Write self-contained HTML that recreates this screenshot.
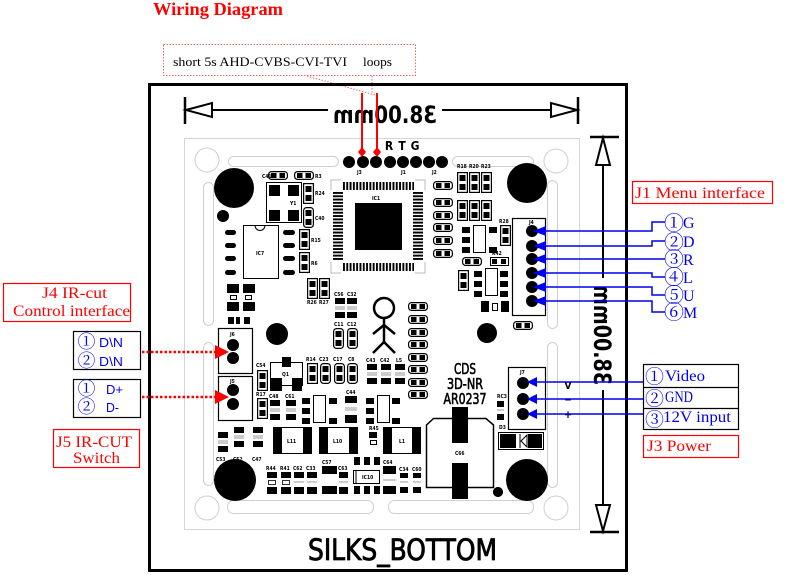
<!DOCTYPE html>
<html><head><meta charset="utf-8">
<style>
html,body{margin:0;padding:0;background:#fff;width:802px;height:587px;overflow:hidden}
svg{display:block}
.t{font-family:'DejaVu Sans Condensed','DejaVu Sans',sans-serif;font-weight:bold;font-size:5px;fill:#000}
.sf{font-family:'Liberation Serif',serif}
.ss{font-family:'Liberation Sans',sans-serif}
.cj{font-family:'Noto Serif CJK SC','Noto Sans CJK SC','DejaVu Sans',serif}
.cd{font-family:'DejaVu Sans Condensed','DejaVu Sans',sans-serif}
</style></head>
<body>
<svg xmlns="http://www.w3.org/2000/svg" xmlns:xlink="http://www.w3.org/1999/xlink" width="802" height="587" viewBox="0 0 802 587">
<defs>
<pattern id="pinH" x="343" y="0" width="3.3" height="20" patternUnits="userSpaceOnUse"><rect width="1.9" height="20" fill="#000"/></pattern>
<pattern id="pinV" x="0" y="192" width="20" height="3.3" patternUnits="userSpaceOnUse"><rect width="20" height="1.9" fill="#000"/></pattern>
<g id="hp"><rect x="0.6" y="0.6" width="18.8" height="7.8" rx="3" fill="#fff" stroke="#000" stroke-width="1.2"/><rect x="3" y="2" width="5.5" height="5"/><rect x="11.5" y="2" width="5.5" height="5"/></g>
<g id="vp"><rect x="0.6" y="0.6" width="9.8" height="19.8" fill="#fff" stroke="#000" stroke-width="1.2"/><rect x="2.5" y="3" width="6" height="6"/><rect x="2.5" y="12" width="6" height="6"/></g>
<g id="vpr"><rect x="0.6" y="0.6" width="9.8" height="19.8" rx="3" fill="#fff" stroke="#000" stroke-width="1.2"/><rect x="2.5" y="3" width="6" height="6"/><rect x="2.5" y="12" width="6" height="6"/></g>
<g id="cb"><rect x="0" y="0" width="10" height="6"/><line x1="0" y1="9" x2="10" y2="9" stroke="#999" stroke-width="1"/><line x1="0" y1="11" x2="10" y2="11" stroke="#999" stroke-width="1"/><rect x="0" y="14" width="10" height="6"/></g>
</defs>

<rect width="802" height="587" fill="#fff"/>

<!-- Title -->
<text x="153" y="15" class="sf" font-weight="bold" font-size="18" fill="#f00" textLength="130" lengthAdjust="spacingAndGlyphs">Wiring Diagram</text>

<!-- Callout -->
<rect x="163.5" y="44.5" width="252" height="31" fill="none" stroke="#ee6a6a" stroke-width="1" stroke-dasharray="1.5 1.5"/>
<text x="173" y="66" class="sf" font-size="13" textLength="174" lengthAdjust="spacingAndGlyphs">short 5s AHD-CVBS-CVI-TVI</text>
<text x="363" y="66" class="sf" font-size="13" textLength="29" lengthAdjust="spacingAndGlyphs">loops</text>
<line x1="307" y1="76" x2="375" y2="95" stroke="#ee6a6a" stroke-width="1" stroke-dasharray="1.5 1.5"/>
<line x1="372" y1="76" x2="372" y2="93" stroke="#ee6a6a" stroke-width="1" stroke-dasharray="1.5 1.5"/>

<!-- Outer frame -->
<rect x="149.5" y="84.5" width="477" height="486" fill="none" stroke="#000" stroke-width="3"/>

<!-- PCB -->
<rect x="184.5" y="138.5" width="395" height="391" fill="#fff" stroke="#d6d6d6"/>
<g fill="none" stroke="#cfcfcf" stroke-width="1">
<circle cx="207" cy="160" r="12"/><circle cx="556" cy="161" r="12"/><circle cx="207" cy="508" r="12"/><circle cx="556" cy="508" r="12"/>
<rect x="228.5" y="156.5" width="110" height="10" rx="5"/>
<rect x="452.5" y="156.5" width="81" height="10" rx="5"/>
<rect x="203.5" y="182.5" width="10" height="143" rx="5"/>
<rect x="203.5" y="342.5" width="10" height="143" rx="5"/>
<rect x="547.5" y="180.5" width="10" height="148" rx="5"/>
<rect x="547.5" y="342.5" width="10" height="145" rx="5"/>
<rect x="227.5" y="500.5" width="146" height="13" rx="6"/>
<rect x="388.5" y="500.5" width="145" height="13" rx="6"/>
</g>

<!-- Dimension horizontal -->
<g stroke="#000" fill="#fff">
<line x1="185" y1="97" x2="185" y2="124" stroke-width="2.5"/>
<line x1="186" y1="110" x2="328" y2="110" stroke-width="2"/>
<polygon points="186,110 212,103 212,117" stroke-width="2"/>
<line x1="442" y1="110" x2="576" y2="110" stroke-width="2"/>
<polygon points="577,110 551,103 551,117" stroke-width="2"/>
<line x1="578" y1="97" x2="578" y2="124" stroke-width="2.5"/>
</g>
<text x="385" y="123" text-anchor="middle" transform="matrix(-1 0 0 1 770 0)" class="cd" font-weight="bold" font-size="24" textLength="104" lengthAdjust="spacingAndGlyphs">38.00mm</text>

<!-- Dimension vertical -->
<g stroke="#000" fill="#fff">
<line x1="590" y1="137" x2="619" y2="137" stroke-width="2.5"/>
<line x1="603" y1="138" x2="603" y2="278" stroke-width="2"/>
<polygon points="603,138 596,165 610,165" stroke-width="2"/>
<line x1="603" y1="390" x2="603" y2="530" stroke-width="2"/>
<polygon points="603,531 596,505 610,505" stroke-width="2"/>
<line x1="590" y1="532" x2="619" y2="532" stroke-width="2.5"/>
</g>
<text x="0" y="0" text-anchor="middle" transform="translate(594,335) scale(-1,1) rotate(-90)" class="cd" font-weight="bold" font-size="24" textLength="100" lengthAdjust="spacingAndGlyphs">38.00mm</text>

<!-- SILKS_BOTTOM -->
<text x="308" y="560" class="cd" font-size="29" stroke="#000" stroke-width="0.8" textLength="189" lengthAdjust="spacingAndGlyphs">SILKS_BOTTOM</text>

<!-- Big mounting circles -->
<g fill="#000">
<circle cx="234" cy="188" r="20"/><circle cx="527" cy="183" r="20"/>
<circle cx="235" cy="480" r="21"/><circle cx="527" cy="480" r="21"/>
<circle cx="223" cy="216" r="6"/><circle cx="277" cy="334" r="11"/>
<circle cx="487" cy="333" r="10"/><circle cx="498" cy="492" r="5"/>
</g>

<!-- Top pin row -->
<g fill="#000">
<circle cx="349" cy="162" r="6"/><circle cx="363" cy="162" r="6"/><circle cx="376" cy="162" r="6"/><circle cx="390" cy="162" r="6"/>
<circle cx="403" cy="162" r="6"/><circle cx="416" cy="162" r="6"/><circle cx="429" cy="162" r="6"/><circle cx="442" cy="162" r="6"/>
</g>
<text x="389" y="150" text-anchor="middle" class="cd" font-weight="bold" font-size="12">R</text>
<text x="402" y="150" text-anchor="middle" class="cd" font-weight="bold" font-size="12">T</text>
<text x="415" y="150" text-anchor="middle" class="cd" font-weight="bold" font-size="12">G</text>
<text x="357" y="174" class="t">J3</text><text x="401" y="174" class="t">J1</text><text x="432" y="174" class="t">J2</text>

<!-- IC1 -->
<rect x="343" y="182" width="71" height="8" fill="url(#pinH)"/>
<rect x="343" y="263" width="71" height="8" fill="url(#pinH)"/>
<rect x="333" y="192" width="10" height="69" fill="url(#pinV)"/>
<rect x="413" y="192" width="10" height="69" fill="url(#pinV)"/>
<rect x="355" y="203" width="47" height="47" fill="#000"/>
<text x="372" y="200" class="t">IC1</text>
<g fill="none" stroke="#bbb" stroke-width="1">
<polyline points="331,190 331,180 341,180"/><polyline points="415,180 425,180 425,190"/>
<polyline points="331,262 331,273 341,273"/><polyline points="415,273 425,273 425,262"/>
</g>

<!-- Top-left components -->
<use href="#hp" x="268" y="171"/><use href="#hp" x="294" y="171"/>
<text x="262" y="178" class="t">C41</text><text x="315" y="178" class="t">R3</text>
<rect x="266.5" y="182.5" width="35" height="40" fill="#fff" stroke="#000"/>
<g fill="#000"><rect x="269" y="185" width="11" height="11"/><rect x="288" y="185" width="11" height="11"/><rect x="269" y="210" width="11" height="11"/><rect x="288" y="210" width="11" height="11"/></g>
<text x="290" y="205" class="t">Y1</text>
<use href="#vp" x="303" y="183"/><use href="#vpr" x="303" y="207"/>
<use href="#vp" x="299" y="229"/><use href="#vp" x="299" y="252"/>
<text x="315" y="195" class="t">R24</text><text x="315" y="220" class="t">C40</text><text x="311" y="242" class="t">R15</text><text x="311" y="265" class="t">R6</text>
<rect x="243.5" y="225.5" width="35" height="53" fill="#fff" stroke="#000"/>
<path d="M255,225.5 a5,5 0 0 0 10,0" fill="none" stroke="#000"/>
<text x="256" y="255" class="t">IC7</text>
<g fill="#000">
<rect x="225" y="230" width="11" height="5" rx="2.5"/><rect x="225" y="243" width="11" height="5" rx="2.5"/><rect x="225" y="256" width="11" height="5" rx="2.5"/><rect x="225" y="270" width="11" height="5" rx="2.5"/>
<rect x="283" y="230" width="12" height="5" rx="2.5"/><rect x="283" y="243" width="12" height="5" rx="2.5"/><rect x="283" y="256" width="12" height="5" rx="2.5"/><rect x="283" y="270" width="12" height="5" rx="2.5"/>
</g>
<use href="#vp" x="307" y="278"/><use href="#vp" x="319" y="278"/>
<text x="307" y="304" class="t">R26</text><text x="319" y="304" class="t">R27</text>
<g fill="#000">
<rect x="227" y="284" width="12" height="9"/><rect x="243" y="284" width="12" height="9"/>
<rect x="227" y="302" width="12" height="9"/><rect x="243" y="302" width="12" height="9"/>
<rect x="228" y="317" width="6" height="7"/><rect x="236" y="317" width="4" height="7"/><rect x="244" y="317" width="6" height="7"/>
</g>
<g fill="#fff" stroke="#000"><rect x="230.5" y="295.5" width="6" height="4"/><rect x="245.5" y="295.5" width="6" height="4"/></g>

<!-- J6 / J5 -->
<rect x="218.5" y="328.5" width="34" height="45" fill="#fff" stroke="#000" stroke-width="1.2"/>
<rect x="218.5" y="376.5" width="34" height="44" fill="#fff" stroke="#000" stroke-width="1.2"/>
<g fill="#000"><circle cx="233" cy="345" r="6"/><circle cx="233" cy="358" r="6"/><circle cx="233" cy="390" r="6"/><circle cx="233" cy="404" r="6"/></g>
<text x="230" y="336" class="t">J6</text><text x="230" y="383" class="t">J5</text>

<!-- Middle-left components -->
<use href="#vp" x="257" y="370"/><use href="#vp" x="257" y="398"/>
<text x="256" y="367" class="t">C54</text><text x="256" y="396" class="t">R17</text>
<rect x="270.5" y="362.5" width="32" height="23" fill="#fff" stroke="#000"/>
<g fill="#000"><rect x="282" y="357" width="9" height="10"/><rect x="270" y="378" width="12" height="13"/><rect x="292" y="378" width="10" height="13"/></g>
<text x="282" y="376" class="t">Q1</text>
<use href="#cb" x="270" y="400"/><use href="#cb" x="286" y="400"/>
<text x="269" y="398" class="t">C48</text><text x="285" y="398" class="t">C61</text>
<use href="#cb" x="218" y="432"/><use href="#cb" x="234" y="427"/><use href="#cb" x="253" y="427"/>
<text x="216" y="461" class="t">C53</text><text x="233" y="461" class="t">C52</text><text x="252" y="461" class="t">C47</text>

<use href="#vp" x="307" y="363"/><use href="#vpr" x="320" y="363"/><use href="#vpr" x="334" y="363"/><use href="#vpr" x="347" y="363"/>
<text x="306" y="361" class="t">R14</text><text x="319" y="361" class="t">C23</text><text x="333" y="361" class="t">C17</text><text x="348" y="361" class="t">C8</text>
<use href="#cb" x="367" y="364"/><use href="#cb" x="381" y="364"/><use href="#cb" x="395" y="364"/>
<text x="366" y="362" class="t">C43</text><text x="380" y="362" class="t">C42</text><text x="396" y="362" class="t">L5</text>
<use href="#cb" x="335" y="298"/><use href="#cb" x="347" y="298"/>
<text x="334" y="296" class="t">C56</text><text x="347" y="296" class="t">C32</text>
<use href="#vpr" x="333" y="328"/><use href="#vpr" x="347" y="328"/>
<text x="334" y="326" class="t">C11</text><text x="347" y="326" class="t">C12</text>

<rect x="313.5" y="395.5" width="12" height="27" fill="#fff" stroke="#000"/>
<g fill="#000"><rect x="302" y="398" width="8" height="6"/><rect x="302" y="408" width="8" height="6"/><rect x="302" y="418" width="8" height="6"/><rect x="329" y="398" width="8" height="6"/><rect x="329" y="418" width="8" height="6"/></g>
<g fill="#000"><rect x="345" y="396" width="12" height="7"/><rect x="345" y="415" width="12" height="8"/></g>
<line x1="345" y1="408" x2="357" y2="408" stroke="#999"/><line x1="345" y1="410" x2="357" y2="410" stroke="#999"/>
<text x="346" y="394" class="t">C44</text>
<rect x="377.5" y="395.5" width="12" height="27" fill="#fff" stroke="#000"/>
<g fill="#000"><rect x="366" y="398" width="8" height="6"/><rect x="366" y="408" width="8" height="6"/><rect x="366" y="418" width="8" height="6"/><rect x="392" y="398" width="8" height="6"/><rect x="392" y="418" width="8" height="6"/></g>

<!-- Inductors -->
<rect x="273.5" y="427.5" width="38" height="26" fill="#fff" stroke="#000"/>
<rect x="273" y="427" width="9" height="27"/><rect x="303" y="427" width="9" height="27"/>
<text x="287" y="443" class="t">L11</text>
<rect x="319.5" y="427.5" width="38" height="26" fill="#fff" stroke="#000"/>
<rect x="319" y="427" width="9" height="27"/><rect x="349" y="427" width="9" height="27"/>
<text x="333" y="443" class="t">L10</text>
<rect x="383.5" y="427.5" width="37" height="26" fill="#fff" stroke="#000"/>
<rect x="383" y="427" width="9" height="27"/><rect x="412" y="427" width="9" height="27"/>
<text x="399" y="443" class="t">L1</text>
<text x="369" y="430" class="t">R45</text>
<rect x="369" y="432" width="8" height="6"/><rect x="370.5" y="440.5" width="6" height="4" fill="#fff" stroke="#000"/>

<!-- Bottom row -->
<g fill="#000">
<rect x="267" y="472" width="10" height="6"/><rect x="267" y="487" width="10" height="7"/>
<rect x="281" y="472" width="10" height="6"/><rect x="281" y="487" width="10" height="7"/>
<rect x="294" y="472" width="10" height="6"/><rect x="294" y="487" width="10" height="7"/>
<rect x="307" y="472" width="10" height="6"/><rect x="307" y="487" width="10" height="7"/>
<rect x="322" y="466" width="15" height="8"/><rect x="322" y="486" width="15" height="8"/>
<rect x="339" y="472" width="9" height="6"/><rect x="339" y="487" width="9" height="7"/>
<rect x="354" y="457" width="6" height="8"/><rect x="364" y="457" width="6" height="8"/><rect x="374" y="457" width="6" height="8"/>
<rect x="354" y="486" width="6" height="8"/><rect x="364" y="486" width="6" height="8"/><rect x="374" y="486" width="6" height="8"/>
<rect x="383" y="466" width="13" height="8"/><rect x="383" y="486" width="13" height="8"/>
<rect x="400" y="473" width="8" height="5"/><rect x="400" y="487" width="8" height="6"/>
<rect x="413" y="473" width="8" height="5"/><rect x="413" y="487" width="8" height="6"/>
</g>
<g fill="#fff" stroke="#000" stroke-width="0.8"><rect x="268.5" y="480.5" width="7" height="4"/><rect x="282.5" y="480.5" width="7" height="4"/></g>
<g stroke="#999"><line x1="294" y1="482" x2="304" y2="482"/><line x1="307" y1="482" x2="317" y2="482"/><line x1="339" y1="482" x2="348" y2="482"/><line x1="383" y1="480" x2="396" y2="480"/><line x1="400" y1="482" x2="408" y2="482"/><line x1="413" y1="482" x2="421" y2="482"/></g>
<rect x="353.5" y="470.5" width="26" height="13" fill="#fff" stroke="#000"/>
<line x1="356" y1="471" x2="356" y2="483" stroke="#000"/>
<text x="362" y="479" class="t">IC10</text>
<text x="266" y="470" class="t">R44</text><text x="280" y="470" class="t">R41</text><text x="293" y="470" class="t">C62</text><text x="306" y="470" class="t">C33</text>
<text x="322" y="464" class="t">C57</text><text x="338" y="470" class="t">C63</text><text x="383" y="464" class="t">C64</text><text x="399" y="471" class="t">C34</text><text x="412" y="471" class="t">C60</text>

<!-- C66 -->
<polygon points="426.5,425 433.5,418.5 486,418.5 493.5,425 493.5,487.5 426.5,487.5" fill="#fff" stroke="#000" stroke-width="1.5"/>
<rect x="452" y="407" width="16" height="36"/><rect x="452" y="463" width="16" height="36"/>
<text x="455" y="455" class="t">C66</text>
<circle cx="498" cy="492" r="5"/>

<!-- CDS text -->
<g stroke="#000" stroke-width="0.6">
<text x="465" y="374" text-anchor="middle" class="cd" font-size="15" textLength="22" lengthAdjust="spacingAndGlyphs">CDS</text>
<text x="465" y="389" text-anchor="middle" class="cd" font-size="15" textLength="36" lengthAdjust="spacingAndGlyphs">3D-NR</text>
<text x="465" y="404" text-anchor="middle" class="cd" font-size="15" textLength="43" lengthAdjust="spacingAndGlyphs">AR0237</text>
</g>

<!-- Stick figure -->
<g fill="none" stroke="#000" stroke-width="2.5">
<circle cx="384" cy="308" r="10"/>
<line x1="384" y1="318" x2="384" y2="342"/>
<polyline points="373,334 384,325 395,334"/>
<polyline points="373,353 384,342 395,353"/>
</g>

<!-- Pad column -->
<use href="#hp" x="408" y="302"/><use href="#hp" x="408" y="315"/><use href="#hp" x="408" y="328"/><use href="#hp" x="408" y="340"/>
<use href="#hp" x="408" y="353"/><use href="#hp" x="408" y="365"/><use href="#hp" x="408" y="378"/><use href="#hp" x="408" y="390"/>

<!-- Right components -->
<use href="#vp" x="457" y="172"/><use href="#vp" x="469" y="172"/><use href="#vp" x="481" y="172"/>
<use href="#vp" x="457" y="200"/><use href="#vp" x="469" y="200"/><use href="#vp" x="481" y="200"/>
<text x="457" y="168" class="t">R18</text><text x="469" y="168" class="t">R20</text><text x="481" y="168" class="t">R23</text>
<use href="#hp" x="433" y="181"/><use href="#hp" x="433" y="198"/><use href="#hp" x="433" y="211"/>
<use href="#hp" x="433" y="223"/><use href="#hp" x="433" y="236"/><use href="#hp" x="433" y="249"/>
<rect x="473.5" y="225.5" width="12" height="27" fill="#fff" stroke="#000"/>
<g fill="#000"><rect x="462" y="227" width="8" height="6"/><rect x="462" y="237" width="8" height="6"/><rect x="462" y="247" width="8" height="6"/><rect x="489" y="227" width="8" height="6"/><rect x="489" y="247" width="8" height="6"/></g>
<use href="#vp" x="500" y="225"/>
<text x="499" y="223" class="t">R28</text>
<use href="#hp" x="462" y="257"/>
<rect x="490.5" y="257.5" width="18" height="8" fill="#fff" stroke="#000"/>
<rect x="492" y="259" width="5" height="5"/><rect x="501" y="259" width="5" height="5"/>
<text x="492" y="255" class="t">R42</text>
<use href="#vp" x="458" y="270"/>
<rect x="485.5" y="268.5" width="12" height="27" fill="#fff" stroke="#000"/>
<g fill="#000"><rect x="474" y="271" width="8" height="6"/><rect x="474" y="281" width="8" height="6"/><rect x="474" y="291" width="8" height="6"/><rect x="500" y="271" width="8" height="6"/><rect x="500" y="281" width="8" height="6"/><rect x="500" y="291" width="8" height="6"/></g>
<rect x="481" y="301" width="8" height="11"/><rect x="492.5" y="303.5" width="5" height="7" fill="#fff" stroke="#000"/><rect x="501" y="301" width="8" height="11"/>
<use href="#hp" x="513" y="321"/>

<!-- J4 connector -->
<rect x="512.5" y="218.5" width="33" height="97" fill="#fff" stroke="#000" stroke-width="1.2"/>
<g fill="#000"><circle cx="532" cy="231" r="6"/><circle cx="532" cy="246" r="6"/><circle cx="532" cy="259" r="6"/><circle cx="532" cy="273" r="6"/><circle cx="532" cy="287" r="6"/><circle cx="532" cy="301" r="6"/></g>
<text x="529" y="224" class="t">J4</text>

<!-- J7 connector -->
<rect x="508.5" y="367.5" width="37" height="62" fill="#fff" stroke="#000" stroke-width="1.2"/>
<g fill="#000"><circle cx="523" cy="383" r="6"/><circle cx="523" cy="399" r="6"/><circle cx="523" cy="414" r="6"/></g>
<text x="520" y="374" class="t">J7</text>
<rect x="497" y="401" width="7" height="6"/><rect x="497" y="414" width="7" height="6"/>
<line x1="497" y1="410" x2="504" y2="410" stroke="#999"/>
<text x="497" y="398" class="t">RC3</text>
<text x="499" y="429" class="t">D3</text>
<rect x="498.5" y="432.5" width="45" height="17" fill="#fff" stroke="#000"/>
<rect x="500" y="434" width="16" height="14"/><rect x="528" y="434" width="14" height="14"/>
<g stroke="#000" fill="none"><line x1="520" y1="434" x2="520" y2="448"/><polygon points="521,441 527,435 527,447"/></g>
<text x="568" y="389" text-anchor="middle" class="cd" font-weight="bold" font-size="10">V</text>
<text x="568" y="403" text-anchor="middle" class="cd" font-weight="bold" font-size="10">−</text>
<text x="568" y="418" text-anchor="middle" class="cd" font-weight="bold" font-size="11">+</text>

<!-- Red short pins -->
<g stroke="#f00" stroke-width="2"><line x1="362" y1="93" x2="362" y2="152"/><line x1="377" y1="93" x2="377" y2="152"/></g>
<g fill="#f00"><polygon points="362,147 366,152 362,157 358,152"/><polygon points="377,147 381,152 377,157 373,152"/></g>

<!-- J1 blue connectors -->
<g stroke="#0000ee" stroke-width="1.5" fill="none">
<polyline points="545,231 652,231 652,222 665,222"/>
<polyline points="545,246 652,246 652,241 665,241"/>
<polyline points="545,259 665,259"/>
<polyline points="545,273 652,273 652,277 665,277"/>
<polyline points="545,287 652,287 652,295 665,295"/>
<polyline points="545,301 652,301 652,312 665,312"/>
</g>
<g fill="#0000ee">
<polygon points="533,231 546,226 546,236"/><polygon points="533,246 546,241 546,251"/><polygon points="533,259 546,254 546,264"/>
<polygon points="533,273 546,268 546,278"/><polygon points="533,287 546,282 546,292"/><polygon points="533,301 546,296 546,306"/>
</g>
<g fill="#0000ee" font-size="20">
<text x="664" y="230" class="cj">①</text><text x="664" y="249" class="cj">②</text><text x="664" y="266" class="cj">③</text>
<text x="664" y="284" class="cj">④</text><text x="664" y="302" class="cj">⑤</text><text x="664" y="319" class="cj">⑥</text>
</g>
<g fill="#0000ee" font-size="16">
<text x="683" y="228" class="sf">G</text><text x="683" y="247" class="sf">D</text><text x="683" y="265" class="sf">R</text>
<text x="683" y="283" class="sf">L</text><text x="683" y="301" class="sf">U</text><text x="683" y="318" class="sf">M</text>
</g>
<rect x="632.5" y="181.5" width="140" height="22" fill="#fff" stroke="#f00" stroke-width="1.2"/>
<text x="635" y="198" class="sf" font-size="16" fill="#f00" textLength="130" lengthAdjust="spacingAndGlyphs">J1 Menu interface</text>

<!-- J3 power -->
<g stroke="#0000ee" stroke-width="1.5"><line x1="535" y1="382" x2="643" y2="382"/><line x1="535" y1="399" x2="643" y2="399"/><line x1="535" y1="414" x2="643" y2="414"/></g>
<g fill="#0000ee"><polygon points="527,382 537,377 537,387"/><polygon points="527,399 537,394 537,404"/><polygon points="527,414 537,409 537,419"/></g>
<rect x="643.5" y="364.5" width="95" height="65" fill="#fff" stroke="#000" stroke-width="1.2"/>
<line x1="643" y1="387.5" x2="738" y2="387.5" stroke="#000" stroke-width="1.2"/>
<line x1="643" y1="408.5" x2="738" y2="408.5" stroke="#000" stroke-width="1.2"/>
<text x="645" y="383" class="cj" font-size="19" fill="#0000ee">①</text>
<text x="645" y="405" class="cj" font-size="19" fill="#0000ee">②</text>
<text x="645" y="426" class="cj" font-size="19" fill="#0000ee">③</text>
<text x="665" y="381" class="sf" font-size="16" fill="#0000ee" textLength="40" lengthAdjust="spacingAndGlyphs">Video</text>
<text x="665" y="402" class="sf" font-size="16" fill="#0000ee" textLength="28" lengthAdjust="spacingAndGlyphs">GND</text>
<text x="663" y="422" class="sf" font-size="16" fill="#0000ee" textLength="68" lengthAdjust="spacingAndGlyphs">12V input</text>
<rect x="643.5" y="435.5" width="95" height="22" fill="#fff" stroke="#f00" stroke-width="1.2"/>
<text x="647" y="451" class="sf" font-size="16" fill="#f00" textLength="64" lengthAdjust="spacingAndGlyphs">J3 Power</text>

<!-- Left labels -->
<rect x="3.5" y="283.5" width="127" height="38" fill="#fff" stroke="#f00" stroke-width="1.2"/>
<text x="42" y="298" class="sf" font-size="16" fill="#f00" textLength="65" lengthAdjust="spacingAndGlyphs">J4  IR-cut</text>
<text x="13" y="316" class="sf" font-size="16" fill="#f00" textLength="117" lengthAdjust="spacingAndGlyphs">Control interface</text>

<rect x="73.5" y="331.5" width="67" height="38" fill="#fff" stroke="#000" stroke-width="1.2"/>
<text x="77.5" y="348" class="cj" font-size="18" fill="#0000ee">①</text>
<text x="77.5" y="367" class="cj" font-size="18" fill="#0000ee">②</text>
<text x="99" y="347" class="ss" font-size="13" fill="#0000ee" textLength="24" lengthAdjust="spacingAndGlyphs">D\N</text>
<text x="99" y="366" class="ss" font-size="13" fill="#0000ee" textLength="24" lengthAdjust="spacingAndGlyphs">D\N</text>

<rect x="73.5" y="379.5" width="67" height="38" fill="#fff" stroke="#000" stroke-width="1.2"/>
<text x="77.5" y="395" class="cj" font-size="18" fill="#0000ee">①</text>
<text x="77.5" y="413" class="cj" font-size="18" fill="#0000ee">②</text>
<text x="106" y="394" class="ss" font-size="13" fill="#0000ee" textLength="17" lengthAdjust="spacingAndGlyphs">D+</text>
<text x="106" y="412" class="ss" font-size="13" fill="#0000ee" textLength="13" lengthAdjust="spacingAndGlyphs">D-</text>

<rect x="53.5" y="429.5" width="86" height="38" fill="#fff" stroke="#f00" stroke-width="1.2"/>
<text x="56" y="447" class="sf" font-size="16" fill="#f00" textLength="76" lengthAdjust="spacingAndGlyphs">J5 IR-CUT</text>
<text x="73" y="463" class="sf" font-size="16" fill="#f00" textLength="47" lengthAdjust="spacingAndGlyphs">Switch</text>

<!-- Red dotted arrows -->
<g stroke="#f00" stroke-width="2.5" stroke-dasharray="2.5 2">
<line x1="142" y1="352" x2="216" y2="352"/>
<line x1="142" y1="397" x2="216" y2="397"/>
</g>
<g fill="#f00"><polygon points="215,345 229,352 215,359"/><polygon points="215,390 229,397 215,404"/></g>

</svg>
</body></html>
